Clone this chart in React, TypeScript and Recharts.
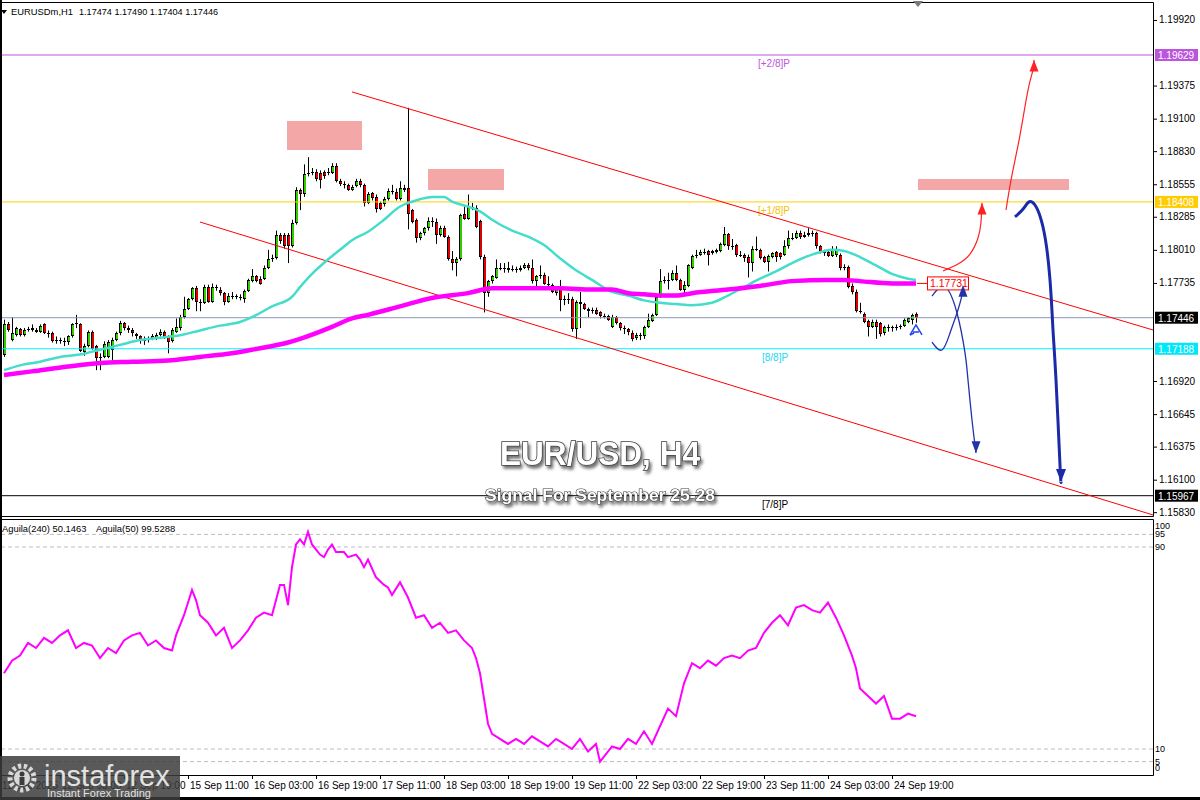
import React from "react";
import {
  ComposedChart,
  LineChart,
  Line,
  Bar,
  XAxis,
  YAxis,
  ReferenceLine,
  ReferenceArea,
  ReferenceDot,
} from "recharts";

// EURUSDm H1 bars, bar 1 = first bar on the left
const opens = [
  1.1714, 1.1739, 1.1726, 1.173, 1.1735, 1.173, 1.1734, 1.1736, 1.1734, 1.1733,
  1.1739, 1.1732, 1.1732, 1.1725, 1.1726, 1.1725, 1.1724, 1.1729, 1.1739, 1.1739,
  1.1716, 1.1721, 1.1733, 1.1721, 1.1711, 1.1712, 1.1712, 1.1718, 1.1726, 1.1732,
  1.174, 1.1736, 1.1734, 1.1731, 1.1729, 1.1725, 1.1726, 1.1727, 1.1727, 1.173,
  1.1733, 1.1729, 1.1725, 1.1733, 1.1736, 1.1745, 1.1752, 1.176, 1.1769, 1.1758,
  1.1757, 1.177, 1.1758, 1.177, 1.1768, 1.1765, 1.1758, 1.1763, 1.1763, 1.1762,
  1.176, 1.1767, 1.1775, 1.1779, 1.1777, 1.1777, 1.1786, 1.1793, 1.1794, 1.1813,
  1.1813, 1.1813, 1.1804, 1.1823, 1.1851, 1.1847, 1.1865, 1.1865, 1.1866, 1.1865,
  1.1866, 1.1865, 1.1865, 1.1871, 1.1858, 1.1856, 1.1855, 1.1851, 1.1854, 1.1858,
  1.1855, 1.184, 1.1848, 1.1845, 1.184, 1.1839, 1.1843, 1.185, 1.1849, 1.1843,
  1.1852, 1.1852, 1.1834, 1.1826, 1.1811, 1.1815, 1.1819, 1.1825, 1.1824, 1.1813,
  1.1819, 1.1812, 1.1793, 1.179, 1.1793, 1.1831, 1.1827, 1.1837, 1.1836, 1.1825,
  1.1795, 1.1765, 1.1775, 1.1778, 1.1786, 1.1786, 1.1786, 1.1784, 1.1785, 1.1784,
  1.1786, 1.1788, 1.1786, 1.1775, 1.1779, 1.178, 1.1773, 1.1772, 1.1765, 1.1769,
  1.1759, 1.176, 1.176, 1.1735, 1.1758, 1.1756, 1.1752, 1.175, 1.1751, 1.1749,
  1.1746, 1.1746, 1.1737, 1.1745, 1.174, 1.1736, 1.1735, 1.1732, 1.1728, 1.173,
  1.1729, 1.1737, 1.1742, 1.1747, 1.1762, 1.1775, 1.1775, 1.1776, 1.1782, 1.1776,
  1.1768, 1.1771, 1.1786, 1.1796, 1.1797, 1.1799, 1.18, 1.1798, 1.1799, 1.18,
  1.1805, 1.1814, 1.1804, 1.1805, 1.1797, 1.1797, 1.1795, 1.179, 1.1802, 1.1801,
  1.1795, 1.1791, 1.1795, 1.1799, 1.1798, 1.1797, 1.1804, 1.1811, 1.1811, 1.1815,
  1.1812, 1.1813, 1.1815, 1.1815, 1.1804, 1.1799, 1.1799, 1.1796, 1.1797, 1.1797,
  1.1786, 1.1787, 1.1771, 1.1766, 1.175, 1.1748, 1.1742, 1.1737, 1.1741, 1.174,
  1.1732, 1.1737, 1.1737, 1.1736, 1.1737, 1.1738, 1.1741, 1.1743, 1.17474,
];
const highs = [
  1.1743, 1.1741, 1.1745, 1.1737, 1.1736, 1.1736, 1.1737, 1.1739, 1.1736, 1.1739,
  1.174, 1.1734, 1.1733, 1.1729, 1.1728, 1.1728, 1.173, 1.174, 1.1747, 1.174,
  1.1723, 1.1734, 1.1734, 1.1722, 1.1715, 1.1725, 1.1726, 1.1728, 1.1733, 1.1742,
  1.1741, 1.1738, 1.1736, 1.1732, 1.173, 1.1729, 1.1729, 1.1731, 1.1732, 1.1735,
  1.1734, 1.173, 1.1736, 1.1744, 1.1747, 1.1762, 1.1761, 1.177, 1.1771, 1.176,
  1.1772, 1.1772, 1.1773, 1.1772, 1.177, 1.1766, 1.1765, 1.1766, 1.1764, 1.1764,
  1.1768, 1.1777, 1.1785, 1.178, 1.1779, 1.1788, 1.1801, 1.1797, 1.1817, 1.1815,
  1.1815, 1.1815, 1.1826, 1.1853, 1.1852, 1.1872, 1.1878, 1.1869, 1.1868, 1.1867,
  1.1867, 1.1869, 1.1873, 1.1873, 1.186, 1.1858, 1.1856, 1.1855, 1.186, 1.186,
  1.1856, 1.1849, 1.1849, 1.1847, 1.1841, 1.1845, 1.1852, 1.1855, 1.1852, 1.1858,
  1.1855, 1.1919, 1.1835, 1.1827, 1.1816, 1.182, 1.1828, 1.1828, 1.1827, 1.1821,
  1.1821, 1.1813, 1.18, 1.1795, 1.1831, 1.1838, 1.1847, 1.184, 1.1838, 1.1826,
  1.1797, 1.1776, 1.178, 1.1793, 1.179, 1.179, 1.1791, 1.1788, 1.1787, 1.1788,
  1.179, 1.179, 1.1793, 1.178, 1.1788, 1.1782, 1.1779, 1.1773, 1.177, 1.1776,
  1.1763, 1.1765, 1.1762, 1.1759, 1.1766, 1.1757, 1.1753, 1.1753, 1.1753, 1.175,
  1.1748, 1.1747, 1.1747, 1.1746, 1.1741, 1.1738, 1.1736, 1.1734, 1.1732, 1.1732,
  1.1738, 1.1748, 1.1748, 1.1764, 1.1785, 1.1779, 1.1782, 1.1784, 1.1788, 1.1777,
  1.1775, 1.1789, 1.1797, 1.1801, 1.1801, 1.1802, 1.1801, 1.1801, 1.1802, 1.1807,
  1.182, 1.1815, 1.181, 1.1806, 1.18, 1.1798, 1.1797, 1.1804, 1.1812, 1.1802,
  1.1796, 1.1797, 1.1799, 1.18, 1.1799, 1.1809, 1.1817, 1.1815, 1.1817, 1.1817,
  1.1816, 1.1819, 1.1817, 1.1816, 1.1805, 1.1801, 1.1801, 1.1804, 1.1804, 1.1798,
  1.1789, 1.1788, 1.1773, 1.1768, 1.1757, 1.1749, 1.1743, 1.1743, 1.1743, 1.1741,
  1.1738, 1.1739, 1.1738, 1.1739, 1.1739, 1.1744, 1.1745, 1.1748, 1.1749,
];
const lows = [
  1.1712, 1.1733, 1.1725, 1.1729, 1.1729, 1.1729, 1.1733, 1.1733, 1.1732, 1.1732,
  1.1731, 1.1728, 1.1724, 1.1723, 1.1723, 1.1721, 1.1722, 1.1728, 1.1736, 1.1716,
  1.1713, 1.172, 1.1718, 1.1701, 1.1701, 1.1711, 1.1711, 1.1709, 1.1725, 1.173,
  1.1734, 1.1732, 1.1729, 1.1727, 1.1723, 1.1722, 1.1724, 1.1726, 1.1726, 1.1729,
  1.1727, 1.1715, 1.1724, 1.1732, 1.1734, 1.1744, 1.1751, 1.1759, 1.175, 1.175,
  1.1756, 1.1757, 1.1757, 1.1767, 1.1763, 1.1755, 1.1757, 1.176, 1.176, 1.1759,
  1.1757, 1.1766, 1.1774, 1.1774, 1.1772, 1.1776, 1.1785, 1.1791, 1.1793, 1.1806,
  1.1802, 1.179, 1.1803, 1.1822, 1.1834, 1.1845, 1.1862, 1.1863, 1.1858, 1.1852,
  1.186, 1.1863, 1.1864, 1.1857, 1.1854, 1.1852, 1.185, 1.185, 1.1853, 1.1853,
  1.1837, 1.1839, 1.1842, 1.1832, 1.1834, 1.1837, 1.1842, 1.1847, 1.1842, 1.1842,
  1.1849, 1.1818, 1.1823, 1.1807, 1.1809, 1.1813, 1.1817, 1.182, 1.1806, 1.1812,
  1.1811, 1.1792, 1.1784, 1.1779, 1.1792, 1.1826, 1.1826, 1.1834, 1.1819, 1.1793,
  1.1749, 1.1762, 1.1773, 1.1777, 1.1784, 1.1782, 1.1782, 1.1783, 1.1782, 1.1783,
  1.1785, 1.1784, 1.1773, 1.177, 1.1777, 1.1772, 1.177, 1.1765, 1.1763, 1.175,
  1.1755, 1.1756, 1.1733, 1.1727, 1.1736, 1.1751, 1.1745, 1.1748, 1.1747, 1.1744,
  1.1744, 1.1742, 1.1736, 1.1739, 1.1734, 1.1731, 1.173, 1.1725, 1.1726, 1.1726,
  1.1727, 1.1736, 1.1741, 1.1746, 1.1761, 1.1773, 1.1768, 1.1775, 1.1775, 1.1767,
  1.1763, 1.177, 1.1785, 1.1794, 1.1796, 1.1797, 1.1788, 1.1797, 1.1798, 1.1799,
  1.1804, 1.1801, 1.1801, 1.1795, 1.1795, 1.1791, 1.1778, 1.1783, 1.18, 1.1793,
  1.179, 1.1783, 1.1794, 1.1791, 1.1793, 1.1796, 1.1802, 1.1809, 1.181, 1.181,
  1.1811, 1.1812, 1.1812, 1.1802, 1.1798, 1.1796, 1.1795, 1.1795, 1.1795, 1.1784,
  1.1784, 1.1769, 1.1764, 1.1749, 1.1748, 1.174, 1.1729, 1.1736, 1.1727, 1.1729,
  1.173, 1.1733, 1.1733, 1.1734, 1.1735, 1.1737, 1.174, 1.1739, 1.17404,
];
const closes = [
  1.1739, 1.1734, 1.1732, 1.1736, 1.173, 1.1734, 1.1735, 1.1734, 1.1733, 1.1738,
  1.1732, 1.1731, 1.1725, 1.1726, 1.1725, 1.1724, 1.1729, 1.1739, 1.174, 1.1717,
  1.1721, 1.1733, 1.1719, 1.1711, 1.1712, 1.1723, 1.1724, 1.1726, 1.1732, 1.174,
  1.1736, 1.1734, 1.1732, 1.1729, 1.1725, 1.1726, 1.1727, 1.1729, 1.173, 1.1733,
  1.1728, 1.1724, 1.1734, 1.1737, 1.1745, 1.1752, 1.176, 1.1769, 1.1758, 1.1757,
  1.177, 1.1758, 1.177, 1.1769, 1.1765, 1.1758, 1.1763, 1.1763, 1.1762, 1.1761,
  1.1767, 1.1776, 1.1779, 1.1775, 1.1773, 1.1786, 1.1793, 1.1794, 1.1813, 1.1808,
  1.1804, 1.1804, 1.1823, 1.1851, 1.1847, 1.1864, 1.1865, 1.1866, 1.186, 1.1859,
  1.1862, 1.1866, 1.1871, 1.1858, 1.1856, 1.1855, 1.1851, 1.1853, 1.1858, 1.1855,
  1.184, 1.1847, 1.1844, 1.1835, 1.1835, 1.1843, 1.185, 1.1849, 1.1843, 1.1852,
  1.1851, 1.1831, 1.1824, 1.1811, 1.1815, 1.1819, 1.1825, 1.1824, 1.1813, 1.1819,
  1.1812, 1.1793, 1.179, 1.1793, 1.183, 1.1827, 1.1837, 1.1836, 1.182, 1.1795,
  1.1765, 1.1775, 1.1779, 1.1786, 1.1786, 1.1785, 1.1784, 1.1785, 1.1784, 1.1786,
  1.1788, 1.1786, 1.1775, 1.1779, 1.178, 1.1773, 1.1773, 1.1766, 1.1769, 1.1759,
  1.176, 1.176, 1.1735, 1.1758, 1.1756, 1.1752, 1.175, 1.1751, 1.1748, 1.1746,
  1.1746, 1.1743, 1.1745, 1.174, 1.1736, 1.1735, 1.1733, 1.1727, 1.173, 1.173,
  1.1737, 1.1743, 1.1747, 1.1762, 1.1775, 1.1776, 1.1776, 1.1782, 1.1776, 1.1768,
  1.1772, 1.1788, 1.1796, 1.1797, 1.1799, 1.1799, 1.1797, 1.18, 1.1801, 1.1806,
  1.1814, 1.1804, 1.1804, 1.1797, 1.1797, 1.1794, 1.179, 1.1802, 1.1802, 1.1794,
  1.1791, 1.1796, 1.1798, 1.1795, 1.1795, 1.1804, 1.1811, 1.1811, 1.1815, 1.1812,
  1.1813, 1.1815, 1.1814, 1.1804, 1.1799, 1.1798, 1.1796, 1.1802, 1.1802, 1.1786,
  1.1787, 1.177, 1.1766, 1.175, 1.175, 1.1741, 1.1737, 1.1741, 1.1737, 1.1731,
  1.1737, 1.1737, 1.1736, 1.1737, 1.1738, 1.1743, 1.1744, 1.1747, 1.17446,
];

// moving averages, [bar, price]
const fastMa = [
  [1, 1.1701], [5, 1.1705], [10, 1.1708], [15, 1.1712], [20, 1.1714], [25, 1.1718],
  [30, 1.1722], [35, 1.1726], [40, 1.1728], [45, 1.173], [50, 1.1734], [55, 1.1738],
  [60, 1.1741], [63, 1.1745], [68, 1.1754], [73, 1.1762], [75, 1.177], [78, 1.1781],
  [82, 1.1793], [85, 1.1801], [88, 1.1809], [92, 1.1816], [96, 1.1826], [100, 1.1837],
  [103, 1.1841], [105, 1.1843], [108, 1.1845], [111, 1.1845], [113, 1.1841], [117, 1.1837],
  [120, 1.1833], [123, 1.1826], [128, 1.1817], [132, 1.1812], [136, 1.1805], [140, 1.1794],
  [144, 1.1784], [148, 1.1776], [153, 1.1766], [157, 1.1763], [161, 1.1759], [165, 1.1757],
  [169, 1.1756], [173, 1.1755], [178, 1.1757], [182, 1.1763], [186, 1.177], [190, 1.1777],
  [194, 1.1783], [198, 1.179], [203, 1.1797], [205, 1.1799], [208, 1.1801], [211, 1.18],
  [215, 1.1795], [219, 1.1788], [223, 1.1781], [227, 1.1777], [229, 1.1776],
];
const slowMa = [
  [1, 1.1697], [8, 1.17], [17, 1.1704], [25, 1.1707], [33, 1.1708], [42, 1.1709],
  [50, 1.1712], [58, 1.1715], [63, 1.1718], [72, 1.1724], [75, 1.1727], [83, 1.1737],
  [88, 1.1744], [92, 1.1747], [100, 1.1754], [108, 1.1761], [117, 1.1765], [123, 1.1769],
  [132, 1.1769], [140, 1.1769], [148, 1.1768], [153, 1.1768], [157, 1.1765], [161, 1.1764],
  [165, 1.1763], [169, 1.1763], [173, 1.1765], [182, 1.1768], [190, 1.1771], [198, 1.1775],
  [207, 1.1776], [211, 1.1776], [215, 1.1775], [223, 1.1773], [229, 1.1773],
];

// Aguila oscillator, [bar, value]
const aguila = [
  [1, 40], [3, 45], [5, 47], [7, 52], [9, 50], [11, 54], [13, 52], [15, 55], [17, 57],
  [19, 50], [21, 52], [23, 51], [25, 46], [27, 50], [29, 48], [31, 53], [33, 55], [35, 56],
  [37, 51], [39, 53], [41, 50], [43, 49], [44, 55], [46, 63], [48, 73], [49, 69], [50, 63],
  [52, 60], [54, 55], [56, 58], [58, 50], [60, 53], [62, 57], [64, 62], [66, 64], [68, 63],
  [70, 75], [71, 75], [72, 67], [73, 82], [74, 91], [75, 93], [76, 91], [77, 96], [78, 91],
  [80, 87], [81, 86], [82, 89], [83, 91], [84, 88], [86, 88], [87, 86], [89, 87], [90, 85],
  [91, 82], [92, 85], [94, 78], [96, 75], [97, 74], [98, 71], [100, 76], [102, 70], [104, 62],
  [106, 63], [108, 58], [110, 60], [112, 56], [114, 57], [116, 53], [118, 50], [119, 46],
  [120, 40], [121, 30], [122, 20], [123, 16], [125, 14], [127, 12], [129, 14], [131, 12],
  [133, 15], [135, 13], [137, 11], [139, 14], [141, 12], [143, 10], [145, 14], [147, 9],
  [149, 12], [150, 5], [151, 7], [153, 11], [155, 10], [157, 14], [159, 12], [161, 17],
  [163, 12], [165, 19], [167, 26], [169, 23], [171, 36], [173, 44], [175, 42], [177, 45],
  [179, 43], [181, 46], [183, 47], [185, 46], [187, 49], [189, 50], [191, 56], [193, 60],
  [195, 63], [197, 59], [199, 66], [201, 67], [203, 65], [205, 64], [207, 68], [209, 62],
  [211, 55], [213, 47], [214, 42], [215, 34], [217, 31], [219, 28], [221, 31], [223, 22],
  [225, 22], [227, 24], [229, 23],
];

const priceTicks = [
  1.1992, 1.19375, 1.191, 1.1883, 1.18555, 1.18285, 1.1801, 1.17735,
  1.1692, 1.16645, 1.16375, 1.161, 1.1583,
];
const timeTickBars = [0, 15, 31, 47, 63, 79, 95, 111, 127, 143, 159, 175, 191, 207, 223];
const timeTickLabels = [
  "11 Sep 2025", "12 Sep 03:00", "12 Sep 19:00", "15 Sep 11:00", "16 Sep 03:00",
  "16 Sep 19:00", "17 Sep 11:00", "18 Sep 03:00", "18 Sep 19:00", "19 Sep 11:00",
  "22 Sep 03:00", "22 Sep 19:00", "23 Sep 11:00", "24 Sep 03:00", "24 Sep 19:00",
];

// Murrey levels and drawn objects
const levelPrices = [1.19629, 1.18408, 1.17446, 1.17188, 1.15967];
const levelNames = ["[+2/8]P", "[+1/8]P", "", "[8/8]P", "[7/8]P"];
const zones = [
  [71.75, 90.5, 1.1884, 1.19081],
  [107, 126, 1.18507, 1.18682],
  [229.5, 267.25, 1.18507, 1.18599],
];
const upperChannel = [[88, 1.19322], [288.25, 1.17344]];
const lowerChannel = [[50, 1.18241], [288.25, 1.15807]];
const maTag = 1.17731;
const redArrowA = [[235.75, 1.17834], [239.5, 1.17892], [242.5, 1.17975], [244.5, 1.18108], [245.25, 1.18241], [245.5, 1.184]];
const redArrowB = [[251.5, 1.18341], [253, 1.18632], [255, 1.18964], [257, 1.19338], [258.25, 1.19504], [258.5, 1.19588]];
const blueDown = [[233, 1.17626], [236.25, 1.17701], [239.25, 1.17485], [241.25, 1.17153], [242, 1.16928], [243, 1.16596], [243.75, 1.16388], [244, 1.16322]];
const blueUp = [[233, 1.17244], [235.5, 1.17178], [237.5, 1.17319], [239.25, 1.17485], [240.5, 1.17635], [240.75, 1.17718]];
const blueBig = [[253.75, 1.18283], [256, 1.18358], [258, 1.18408], [260.75, 1.182], [262.5, 1.1776], [263.25, 1.17344], [264, 1.16929], [265, 1.16222], [265.25, 1.16081]];
const signalMark = [229, 1.17344];

const X_MAX = 288.25;
const GREEN = "#33cc00";
const RED = "#dd0000";
const FONT = "'Liberation Sans', Arial, sans-serif";

const candles = opens.map((o, k) => {
  const c = closes[k];
  const h = Math.max(highs[k], o, c);
  const l = Math.min(lows[k], o, c);
  return { i: k + 1, o, h, l, c, range: [l, h] };
});
const pts = (arr: number[][]) => arr.map(([i, p]) => ({ i, p }));

function Candle(props: any) {
  const { x, y, width, height, payload } = props;
  if (!payload || !isFinite(y)) return <g />;
  const top = Math.min(y, y + height);
  const hh = Math.abs(height);
  const { o, h, l, c } = payload;
  const at = (v: number) => top + ((h - v) / (h - l)) * hh;
  const px = Math.round(x + width / 2);
  const bTop = Math.round(at(Math.max(o, c)));
  const bBot = Math.max(Math.round(at(Math.min(o, c))), bTop + 1);
  return (
    <g>
      <line x1={px + 0.5} x2={px + 0.5} y1={top} y2={top + hh} stroke="#000" />
      <rect x={px - 1} y={bTop} width={3} height={bBot - bTop} fill="#000" />
      {bBot - bTop > 2 && (
        <rect x={px} y={bTop + 1} width={2} height={bBot - bTop - 2} fill={c >= o ? GREEN : RED} />
      )}
    </g>
  );
}

function head(color: string, w: number, last: number, up: boolean) {
  return (p: any) => {
    if (p.index !== last) return <g key={p.index} />;
    const d = up ? 1 : -1;
    const { cx, cy } = p;
    return (
      <polygon
        key={p.index}
        points={`${cx},${cy} ${cx - w / 2},${cy + d * w * 1.3} ${cx + w / 2},${cy + d * w * 1.3}`}
        fill={color}
      />
    );
  };
}

const levelStyle = [
  { line: "#bb55dd", tag: "#bb55dd", box: "#bb55dd", tagX: 758 },
  { line: "#ffd000", tag: "#f5c000", box: "#ffcc00", tagX: 758 },
  { line: "#8a98b8", tag: "#000", box: "#000", tagX: 0 },
  { line: "#00f0ff", tag: "#22d8ee", box: "#00e8f8", tagX: 762 },
  { line: "#000", tag: "#000", box: "#000", tagX: 762 },
];

function levelLabel(k: number) {
  return (lp: any) => {
    const vb = lp.viewBox;
    if (!vb) return <g />;
    const st = levelStyle[k];
    const right = vb.x + vb.width;
    return (
      <g>
        {levelNames[k] && (
          <text x={st.tagX} y={vb.y + 12} fontSize={10} fill={st.tag} fontFamily={FONT}>
            {levelNames[k]}
          </text>
        )}
        <rect x={right + 2} y={vb.y - 6} width={43} height={12} fill={st.box} />
        <text x={right + 5} y={vb.y + 4} fontSize={10} fill="#fff" fontFamily={FONT}>
          {levelPrices[k].toFixed(5)}
        </text>
      </g>
    );
  };
}

function PriceTick(props: any) {
  const { y, payload } = props;
  return (
    <g>
      <line x1={1153} x2={1157} y1={y + 0.5} y2={y + 0.5} stroke="#000" />
      <text x={1159} y={y + 3.5} fontSize={10} fill="#000" fontFamily={FONT}>
        {Number(payload.value).toFixed(5)}
      </text>
    </g>
  );
}

function TimeTick(props: any) {
  const { x, payload } = props;
  const k = timeTickBars.indexOf(payload.value);
  return (
    <g>
      <line x1={x + 0.5} x2={x + 0.5} y1={257} y2={261} stroke="#000" />
      <text x={x + 2} y={271} fontSize={10} fill="#000" fontFamily={FONT}>
        {timeTickLabels[k]}
      </text>
    </g>
  );
}

function OscTick(props: any) {
  const { y, payload } = props;
  const ty = Math.min(Math.max(y, 8), 250);
  return (
    <text x={1155} y={ty + 3} fontSize={9} fill="#000" fontFamily={FONT}>
      {payload.value}
    </text>
  );
}

export default function App() {
  return (
    <div
      style={{
        position: "absolute",
        left: 0,
        top: 0,
        width: 1200,
        height: 800,
        background: "#fff",
        overflow: "hidden",
        fontFamily: FONT,
      }}
    >
      <div style={{ position: "absolute", left: 0, top: 0 }}>
        <ComposedChart width={1200} height={518} data={candles} margin={{ top: 3, right: 0, bottom: 1, left: 0 }}>
          <XAxis dataKey="i" type="number" domain={[0, X_MAX]} hide allowDataOverflow />
          <YAxis
            orientation="right"
            type="number"
            domain={[1.1579, 1.20061]}
            allowDataOverflow
            ticks={priceTicks}
            interval={0}
            width={47}
            axisLine={false}
            tickLine={false}
            tick={<PriceTick />}
          />
          {zones.map(([x1, x2, y1, y2], k) => (
            <ReferenceArea key={k} x1={x1} x2={x2} y1={y1} y2={y2} fill="#f4a7a7" fillOpacity={1} stroke="none" ifOverflow="visible" />
          ))}
          {levelPrices.map((p, k) => (
            <ReferenceLine key={p} y={p} stroke={levelStyle[k].line} strokeWidth={1} label={levelLabel(k)} />
          ))}
          <ReferenceLine
            segment={[{ x: upperChannel[0][0], y: upperChannel[0][1] }, { x: upperChannel[1][0], y: upperChannel[1][1] }]}
            stroke="#ff0000"
            ifOverflow="hidden"
          />
          <ReferenceLine
            segment={[{ x: lowerChannel[0][0], y: lowerChannel[0][1] }, { x: lowerChannel[1][0], y: lowerChannel[1][1] }]}
            stroke="#ff0000"
            ifOverflow="hidden"
          />
          <Bar dataKey="range" barSize={4} shape={<Candle />} isAnimationActive={false} />
          <Line data={pts(fastMa)} dataKey="p" type="monotone" stroke="#44ddcc" strokeWidth={2.5} dot={false} isAnimationActive={false} />
          <Line data={pts(slowMa)} dataKey="p" type="monotone" stroke="#ff00ff" strokeWidth={4.5} dot={false} isAnimationActive={false} />
          <ReferenceLine
            segment={[{ x: 229.25, y: maTag }, { x: 232, y: maTag }]}
            stroke="#ff0000"
            ifOverflow="visible"
          />
          <ReferenceDot
            x={237}
            y={maTag}
            r={1}
            ifOverflow="visible"
            shape={(p: any) => (
              <g>
                <rect x={p.cx - 20.5} y={p.cy - 6.5} width={41} height={13} fill="#fff" stroke="#ff0000" />
                <text x={p.cx - 18} y={p.cy + 4} fontSize={10.5} fill="#ff0000" fontFamily={FONT}>
                  {maTag.toFixed(5)}
                </text>
              </g>
            )}
          />
          <ReferenceDot
            x={signalMark[0]}
            y={signalMark[1]}
            r={1}
            shape={(p: any) => (
              <g fill="none" stroke="#2244ee" strokeWidth={1.5}>
                <path d={`M${p.cx - 6},${p.cy + 5} L${p.cx},${p.cy - 5} L${p.cx + 6},${p.cy + 5}`} />
                <path d={`M${p.cx - 3},${p.cy + 2} L${p.cx + 3},${p.cy + 2} M${p.cx - 6},${p.cy + 5} L${p.cx - 2},${p.cy + 3}`} />
              </g>
            )}
          />
          <Line data={pts(redArrowA)} dataKey="p" type="natural" stroke="#ff2222" strokeWidth={1.2} dot={head("#ff2222", 9, redArrowA.length - 1, true)} isAnimationActive={false} />
          <Line data={pts(redArrowB)} dataKey="p" type="natural" stroke="#ff2222" strokeWidth={1.2} dot={head("#ff2222", 9, redArrowB.length - 1, true)} isAnimationActive={false} />
          <Line data={pts(blueDown)} dataKey="p" type="natural" stroke="#2233aa" strokeWidth={1.3} dot={head("#2233aa", 9, blueDown.length - 1, false)} isAnimationActive={false} />
          <Line data={pts(blueUp)} dataKey="p" type="natural" stroke="#2233aa" strokeWidth={1.3} dot={head("#2233aa", 9, blueUp.length - 1, true)} isAnimationActive={false} />
          <Line data={pts(blueBig)} dataKey="p" type="natural" stroke="#1a2aa8" strokeWidth={3} dot={head("#1a2aa8", 10, blueBig.length - 1, false)} isAnimationActive={false} />
        </ComposedChart>
      </div>

      <div style={{ position: "absolute", left: 0, top: 518 }}>
        <LineChart width={1200} height={282} data={pts(aguila).map((d) => ({ i: d.i, v: d.p }))} margin={{ top: 2, right: 0, bottom: 0, left: 0 }}>
          <XAxis
            dataKey="i"
            type="number"
            domain={[0, X_MAX]}
            allowDataOverflow
            ticks={timeTickBars}
            interval={0}
            height={25}
            axisLine={false}
            tickLine={false}
            tick={<TimeTick />}
          />
          <YAxis
            orientation="right"
            type="number"
            domain={[-0.3, 100.7]}
            allowDataOverflow
            ticks={[0, 5, 10, 90, 95, 100]}
            interval={0}
            width={47}
            axisLine={false}
            tickLine={false}
            tick={<OscTick />}
          />
          {[95, 90, 10, 5].map((v) => (
            <ReferenceLine key={v} y={v} stroke="#bdbdbd" strokeDasharray="4 3" />
          ))}
          <Line dataKey="v" type="linear" stroke="#ff00ff" strokeWidth={2} dot={false} isAnimationActive={false} />
        </LineChart>
      </div>

      <svg width={1200} height={800} style={{ position: "absolute", left: 0, top: 0, pointerEvents: "none" }}>
        <defs>
          <filter id="sh" x="-10%" y="-40%" width="130%" height="190%">
            <feDropShadow dx="2" dy="3" stdDeviation="1.5" floodColor="#000" floodOpacity="0.55" />
          </filter>
        </defs>
        <g stroke="#000" strokeWidth={1} fill="none">
          <line x1={0} x2={1153.5} y1={2.5} y2={2.5} />
          <line x1={1153.5} x2={1153.5} y1={2.5} y2={516.5} />
          <line x1={0} x2={1153.5} y1={516.5} y2={516.5} />
          <line x1={0} x2={1153.5} y1={519.5} y2={519.5} />
          <line x1={1153.5} x2={1153.5} y1={519.5} y2={775.5} />
          <line x1={0} x2={1153.5} y1={775.5} y2={775.5} />
        </g>
        <rect x={0} y={0} width={2} height={800} fill="#000" />
        <rect x={0} y={797} width={1200} height={3} fill="#000" />
        <polygon points="913,1 923,1 918,7" fill="#7a7a7a" />

        <polygon points="1,10 7,10 4,14" fill="#000" />
        <text x={11} y={15} fontSize={9.4} fill="#000" fontFamily={FONT}>EURUSDm,H1</text>
        <text x={79} y={15} fontSize={9.1} fill="#000" fontFamily={FONT}>1.17474 1.17490 1.17404 1.17446</text>
        <text x={2} y={532} fontSize={9.4} fill="#000" fontFamily={FONT}>Aguila(240) 50.1463</text>
        <text x={96} y={532} fontSize={9.4} fill="#000" fontFamily={FONT}>Aguila(50) 99.5288</text>

        <text
          x={600}
          y={465}
          textAnchor="middle"
          fontSize={34}
          fontWeight="bold"
          fill="#fff"
          stroke="#3a3a3a"
          strokeWidth={1.6}
          paintOrder="stroke"
          textLength={200}
          lengthAdjust="spacingAndGlyphs"
          filter="url(#sh)"
          fontFamily={FONT}
        >
          EUR/USD, H4
        </text>
        <text
          x={600}
          y={501}
          textAnchor="middle"
          fontSize={17}
          fontWeight="bold"
          fill="#fff"
          stroke="#3a3a3a"
          strokeWidth={1.2}
          paintOrder="stroke"
          textLength={230}
          lengthAdjust="spacingAndGlyphs"
          filter="url(#sh)"
          fontFamily={FONT}
        >
          Signal For September 25-28
        </text>

        <g>
          <rect x={0} y={756} width={180} height={44} fill="#3c3c3c" opacity={0.85} />
          <circle cx={22} cy={778} r={12} fill="none" stroke="#d8d8d8" strokeWidth={5} strokeDasharray="3.2 2.6" />
          <circle cx={22} cy={778} r={8} fill="#d8d8d8" />
          <circle cx={22} cy={774} r={2.5} fill="#3c3c3c" />
          <rect x={19.5} y={777} width={5} height={8} fill="#3c3c3c" />
          <text x={44} y={786} fontSize={29} fill="#e2e2e2" fontFamily={FONT}>instaforex</text>
          <text x={47} y={797} fontSize={11} fill="#e2e2e2" fontFamily={FONT}>Instant Forex Trading</text>
        </g>
      </svg>
    </div>
  );
}
